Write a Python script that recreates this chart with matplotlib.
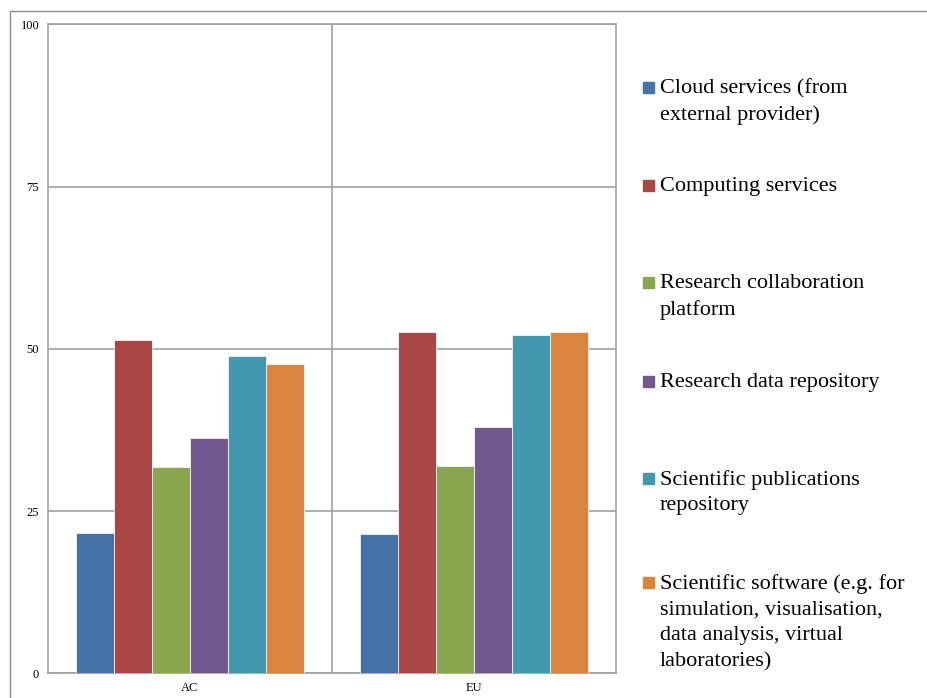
import numpy as np
import matplotlib
matplotlib.use("Agg")
import matplotlib.pyplot as plt
from matplotlib.patches import Rectangle

# data
categories = ["AC", "EU"]
series = [
    "Cloud services (from\nexternal provider)",
    "Computing services",
    "Research collaboration\nplatform",
    "Research data repository",
    "Scientific publications\nrepository",
    "Scientific software (e.g. for\nsimulation, visualisation,\ndata analysis, virtual\nlaboratories)",
]
cloud = [21.6, 21.5]
computing = [51.4, 52.6]
collaboration = [31.8, 31.9]
data_repo = [36.3, 38.0]
publications = [48.9, 52.2]
software = [47.7, 52.6]
values = [cloud, computing, collaboration, data_repo, publications, software]
colors = ["#4572A7", "#AA4643", "#89A54E", "#71588F", "#4198AF", "#DB843D"]
yticks = [0, 25, 50, 75, 100]

plt.rcParams['font.family'] = ['Liberation Serif', 'DejaVu Serif']

fig = plt.figure(figsize=(9.28, 6.98), dpi=100)
ax = fig.add_axes([0.0512, 0.0354, 0.6131, 0.9295])

# outer chart frame (cropped)
fig.patches.append(Rectangle((10 / 928, -0.1), 2.0, 1 - 11 / 698 + 0.1,
                             transform=fig.transFigure, fill=False,
                             edgecolor="#8c8c8c", linewidth=1.0))

x = np.arange(len(categories))
w = 0.1335
for i, (vals, col) in enumerate(zip(values, colors)):
    ax.bar(x + (i - 2.5) * w, vals, width=w, color=col,
           edgecolor="#f4f4f4", linewidth=0.6, zorder=3)

ax.set_xlim(-0.5, 1.5)
ax.set_ylim(0, 100)
ax.set_yticks(yticks)
ax.set_yticklabels([str(t) for t in yticks], fontsize=9)
ax.set_xticks(x)
ax.set_xticklabels(categories, fontsize=9)
ax.tick_params(length=0, pad=6)
ax.tick_params(axis='y', pad=6)
ax.grid(axis='y', color="#a0a0a0", linewidth=1.2, zorder=0)
ax.axvline(0.5, color="#a0a0a0", linewidth=1.2, zorder=0)
for s in ax.spines.values():
    s.set_color("#a0a0a0")
    s.set_linewidth(1.2)

# legend, square aligned with first line of each label
line_y = [87, 185, 282, 381, 478, 582]
for lab, col, yy in zip(series, colors, line_y):
    fy = 1 - yy / 698
    fig.patches.append(Rectangle((643 / 928, fy - 5.5 / 698), 11 / 928, 11 / 698,
                                 transform=fig.transFigure, color=col))
    fig.text(660 / 928, fy + 8 / 698, lab, fontsize=16, va='top', ha='left',
             transform=fig.transFigure, linespacing=1.47,
             fontfamily=['Liberation Serif'])

fig.savefig("out.png", dpi=100)
